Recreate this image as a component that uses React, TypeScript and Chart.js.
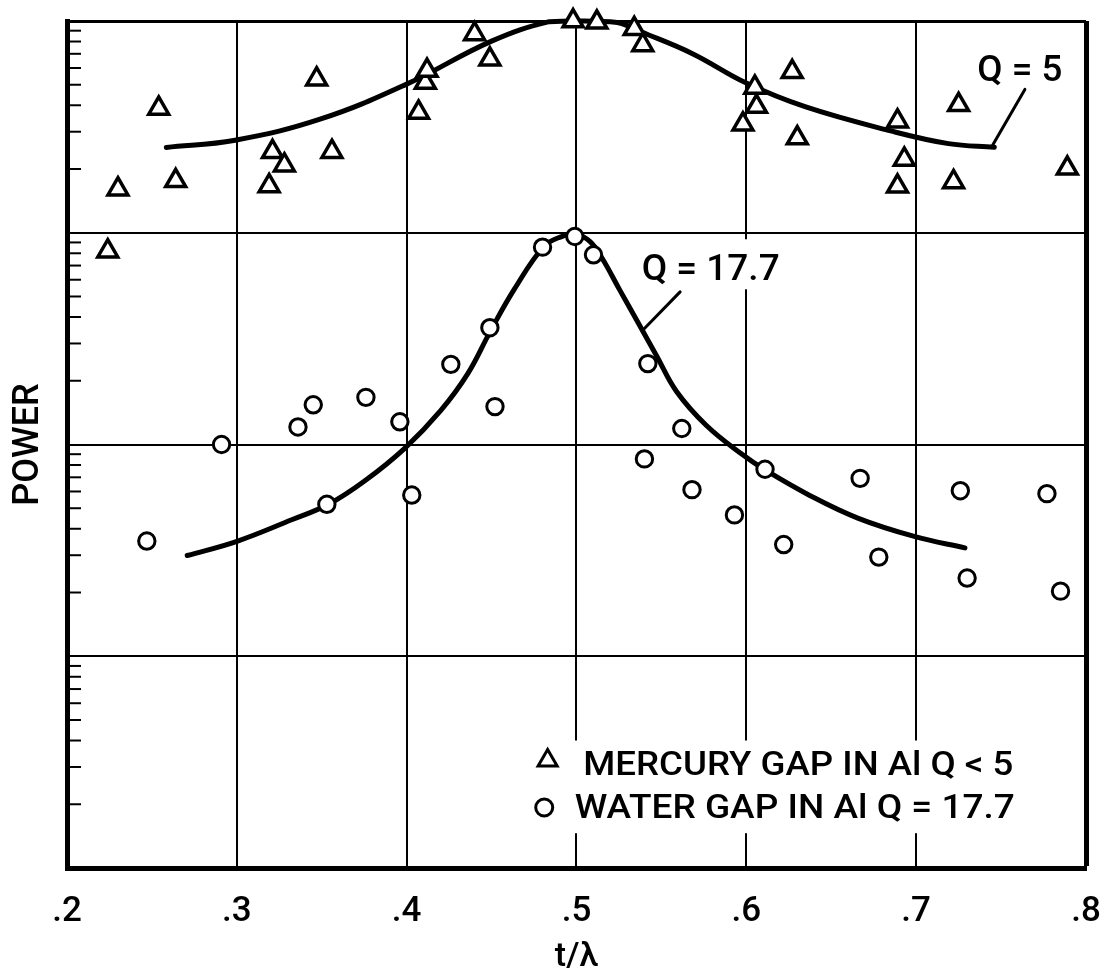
import React, { useEffect, useRef } from 'react';
import { Chart, registerables } from 'chart.js';

Chart.register(...registerables);

// ---------- data ----------
const xTickLabels = ['.2', '.3', '.4', '.5', '.6', '.7', '.8'];
const yDecades = [1, 10, 100, 1000, 10000];
const yMinorSteps = [2, 3, 4, 5, 6, 7, 8, 9];

const mercuryX = [0.224, 0.230, 0.254, 0.264, 0.319, 0.321, 0.328, 0.347, 0.356, 0.407, 0.411, 0.412, 0.440, 0.449, 0.498, 0.512, 0.534, 0.539, 0.598, 0.605, 0.606, 0.627, 0.630, 0.689, 0.693, 0.689, 0.725, 0.722, 0.789];
const mercuryY = [818, 1607, 3864, 1758, 1663, 2410, 2084, 5309, 2415, 3698, 5117, 5834, 8690, 6592, 10000, 9860, 9183, 7709, 3251, 4853, 3945, 5754, 2799, 3365, 2218, 1656, 4018, 1738, 2014];

const waterX = [0.247, 0.291, 0.336, 0.345, 0.353, 0.376, 0.396, 0.403, 0.426, 0.449, 0.452, 0.480, 0.499, 0.510, 0.542, 0.540, 0.562, 0.568, 0.593, 0.611, 0.622, 0.667, 0.678, 0.726, 0.730, 0.777, 0.785];
const waterY = [35.0, 100, 121, 154, 52.2, 167, 128, 57.7, 239, 356, 151, 855, 960, 787, 241, 85.5, 119, 61.2, 46.5, 76.4, 33.7, 69.2, 29.4, 60.5, 23.4, 58.6, 20.3];

const q5CurveX = [0.2585, 0.299, 0.349, 0.400, 0.450, 0.484, 0.500, 0.524, 0.538, 0.568, 0.600, 0.635, 0.685, 0.719, 0.746];
const q5CurveY = [2529, 2735, 3436, 5035, 8035, 9931, 10000, 9840, 8892, 7031, 5093, 3926, 3027, 2636, 2535];

const q177CurveX = [0.2708, 0.3001, 0.3323, 0.354, 0.3756, 0.399, 0.420, 0.436, 0.4494, 0.4635, 0.481, 0.4916, 0.4992, 0.508, 0.515, 0.5255, 0.5372, 0.5472, 0.5589, 0.5765, 0.5981, 0.6104, 0.6368, 0.666, 0.6994, 0.7287];
const q177CurveY = [29.9, 34.9, 44.1, 52.2, 67.6, 96.2, 144.5, 216, 344, 543, 865, 962, 991, 908, 760, 536, 365, 262, 178, 123, 89.1, 76.4, 57.8, 44.8, 36.7, 32.5];

const legendLabels = ['MERCURY GAP IN Al Q < 5', 'WATER GAP IN Al Q = 17.7'];
const curveLabels = ['Q = 5', 'Q = 17.7'];

// ---------- annotation layout (data coordinates) ----------
const curveLabelLayout = [
  { x: 0.761, y: 5980, width: 85, size: 36, box: false },
  { x: 0.579, y: 687, width: 138, size: 36, box: true },
];
const leaderLayout = [
  { x1: 0.764, y1: 4753, x2: 0.745, y2: 2588 },
  { x1: 0.561, y1: 526, x2: 0.540, y2: 353 },
];
const legendLayout = {
  box: { x0: 0.474, x1: 0.764, yTop: 4.0, yBottom: 1.46 },
  markers: [
    { x: 0.483, y: 3.22, style: 'triangle' },
    { x: 0.481, y: 1.93, style: 'circle' },
  ],
  lines: [
    { x: 0.504, y: 2.75, width: 430 },
    { x: 0.499, y: 1.73, width: 440 },
  ],
  size: 34,
};

const FONT = 'Roboto';
const WEIGHT = 500;

function toPoints(xs: number[], ys: number[]) {
  return xs.map((x, i) => ({ x, y: ys[i] }));
}

function drawStretched(ctx: CanvasRenderingContext2D, text: string, left: number, baseline: number, width: number, size: number) {
  ctx.font = `${WEIGHT} ${size}px ${FONT}`;
  ctx.textAlign = 'left';
  ctx.textBaseline = 'alphabetic';
  const m = ctx.measureText(text).width;
  ctx.save();
  ctx.translate(left, baseline);
  ctx.scale(width / m, 1);
  ctx.fillStyle = '#000';
  ctx.fillText(text, 0, 0);
  ctx.restore();
}

const annotationPlugin = {
  id: 'annotationPlugin',
  beforeDatasetsDraw(chart: any) {
    const { ctx, chartArea, scales } = chart;
    const xs = scales.x;
    const ys = scales.y;
    ctx.save();
    // minor ticks inside left axis
    ctx.strokeStyle = '#000';
    ctx.lineWidth = 2;
    for (let i = 0; i < yDecades.length - 1; i++) {
      for (const k of yMinorSteps) {
        const py = ys.getPixelForValue(yDecades[i] * k);
        ctx.beginPath();
        ctx.moveTo(chartArea.left, py);
        ctx.lineTo(chartArea.left + 14, py);
        ctx.stroke();
      }
    }
    // curve labels
    curveLabelLayout.forEach((l, i) => {
      const cx = xs.getPixelForValue(l.x);
      const cy = ys.getPixelForValue(l.y);
      const cap = l.size * 0.711;
      if (l.box) {
        ctx.fillStyle = '#fff';
        ctx.fillRect(cx - l.width / 2 - 6, cy - 28, l.width + 12, 50);
      }
      drawStretched(ctx, curveLabels[i], cx - l.width / 2, cy + cap / 2, l.width, l.size);
    });
    // leaders
    ctx.strokeStyle = '#000';
    ctx.lineWidth = 3;
    ctx.lineCap = 'round';
    leaderLayout.forEach((d) => {
      ctx.beginPath();
      ctx.moveTo(xs.getPixelForValue(d.x1), ys.getPixelForValue(d.y1));
      ctx.lineTo(xs.getPixelForValue(d.x2), ys.getPixelForValue(d.y2));
      ctx.stroke();
    });
    // legend
    const b = legendLayout.box;
    const bx0 = xs.getPixelForValue(b.x0);
    const bx1 = xs.getPixelForValue(b.x1);
    const by0 = ys.getPixelForValue(b.yTop);
    const by1 = ys.getPixelForValue(b.yBottom);
    ctx.fillStyle = '#fff';
    ctx.fillRect(bx0, by0, bx1 - bx0, by1 - by0);
    ctx.strokeStyle = '#000';
    ctx.lineWidth = 3;
    legendLayout.markers.forEach((mk) => {
      const px = xs.getPixelForValue(mk.x);
      const py = ys.getPixelForValue(mk.y);
      ctx.beginPath();
      if (mk.style === 'triangle') {
        const r = 11;
        ctx.moveTo(px, py - r);
        ctx.lineTo(px + 0.866 * r, py + r / 2);
        ctx.lineTo(px - 0.866 * r, py + r / 2);
        ctx.closePath();
      } else {
        ctx.arc(px, py, 8.5, 0, Math.PI * 2);
      }
      ctx.stroke();
    });
    legendLayout.lines.forEach((ln, i) => {
      drawStretched(ctx, legendLabels[i], xs.getPixelForValue(ln.x), ys.getPixelForValue(ln.y), ln.width, legendLayout.size);
    });
    ctx.restore();
  },
};

export default function App() {
  const ref = useRef<HTMLCanvasElement | null>(null);
  useEffect(() => {
    if (!ref.current) return;
    const curveStyle = {
      showLine: true,
      borderColor: '#000',
      borderWidth: 5,
      pointRadius: 0,
      tension: 0.4,
      borderCapStyle: 'round',
      clip: false,
      order: 2,
    };
    const chart = new Chart(ref.current, {
      type: 'scatter',
      data: {
        datasets: [
          { label: 'Q = 5 curve', data: toPoints(q5CurveX, q5CurveY), ...curveStyle } as any,
          { label: 'Q = 17.7 curve', data: toPoints(q177CurveX, q177CurveY), ...curveStyle } as any,
          {
            label: legendLabels[0],
            data: toPoints(mercuryX, mercuryY),
            pointStyle: 'triangle',
            pointRadius: 11.5,
            borderWidth: 3.5,
            borderColor: '#000',
            backgroundColor: '#fff',
            clip: false,
            order: 1,
          } as any,
          {
            label: legendLabels[1],
            data: toPoints(waterX, waterY),
            pointStyle: 'circle',
            pointRadius: 8.2,
            borderWidth: 3,
            borderColor: '#000',
            backgroundColor: '#fff',
            clip: false,
            order: 1,
          } as any,
        ],
      },
      options: {
        animation: false,
        responsive: false,
        devicePixelRatio: 1,
        events: [],
        layout: { padding: { left: 8, top: 21, right: 9, bottom: 0 } },
        plugins: { legend: { display: false }, tooltip: { enabled: false } },
        scales: {
          x: {
            type: 'linear',
            min: 0.2,
            max: 0.8,
            ticks: {
              stepSize: 0.1,
              color: '#000',
              font: { family: FONT, size: 35, weight: WEIGHT, lineHeight: 1 },
              padding: 27,
              callback: (_v: any, i: number) => xTickLabels[i],
            },
            grid: {
              color: '#000',
              drawTicks: false,
              lineWidth: (c: any) => (c.tick && c.tick.value > 0.79 ? 5 : 2),
            },
            border: { display: true, color: '#000', width: 5 },
            title: {
              display: true,
              text: 't/λ',
              color: '#000',
              font: { family: FONT, size: 34, weight: WEIGHT, lineHeight: 1 },
              padding: { top: 0, bottom: 0 },
            },
            afterFit: (s: any) => {
              s.height = 106;
              s.paddingLeft = 0;
              s.paddingRight = 0;
            },
          },
          y: {
            type: 'logarithmic',
            min: 1,
            max: 10000,
            afterBuildTicks: (s: any) => {
              s.ticks = yDecades.map((v) => ({ value: v }));
            },
            ticks: { display: false },
            grid: {
              color: '#000',
              drawTicks: false,
              lineWidth: (c: any) => (c.tick && c.tick.value >= 10000 ? 3 : 2),
            },
            border: { display: true, color: '#000', width: 5 },
            title: {
              display: true,
              text: 'POWER',
              color: '#000',
              font: { family: FONT, size: 36, weight: WEIGHT, lineHeight: 1 },
              padding: { top: 3, bottom: 0 },
            },
            afterFit: (s: any) => {
              s.width = 59;
              s.paddingTop = 0;
              s.paddingBottom = 0;
            },
          },
        },
      } as any,
      plugins: [annotationPlugin],
    });
    return () => chart.destroy();
  }, []);
  return (
    <div style={{ position: 'fixed', left: 0, top: 0, width: 1101, height: 974, background: '#fff' }}>
      <canvas ref={ref} width={1101} height={974} style={{ width: 1101, height: 974, display: 'block' }} />
    </div>
  );
}
